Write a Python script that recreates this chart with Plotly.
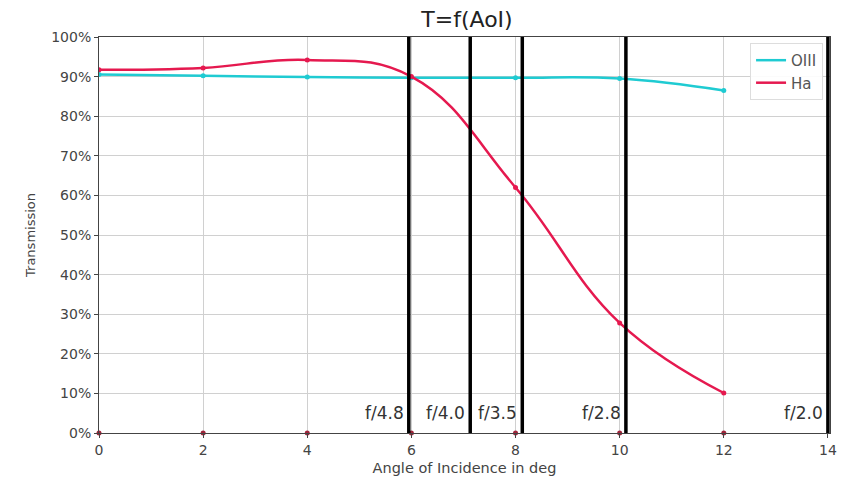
import plotly.graph_objects as go

angles = [0, 2, 4, 6, 8, 10, 12]
oiii = [90.5, 90.2, 89.9, 89.7, 89.7, 89.5, 86.5]
ha = [91.7, 92.2, 94.2, 90.0, 62.0, 27.8, 10.1]
zeros = [0, 0, 0, 0, 0, 0, 0]

f_labels = ["f/4.8", "f/4.0", "f/3.5", "f/2.8", "f/2.0"]
f_angles = [5.95, 7.13, 8.13, 10.12, 14.0]

y_ticks = [0, 10, 20, 30, 40, 50, 60, 70, 80, 90, 100]
y_ticktext = ["0%", "10%", "20%", "30%", "40%", "50%", "60%", "70%", "80%", "90%", "100%"]
x_ticks = [0, 2, 4, 6, 8, 10, 12, 14]

FONT = "DejaVu Sans, sans-serif"
C_O = "#1fcbd2"
C_H = "#e5194f"

fig = go.Figure()
for name, vals, col in [("OIII", oiii, C_O), ("Ha", ha, C_H)]:
    fig.add_trace(go.Scatter(x=angles, y=vals, name=name, mode="lines",
                             line=dict(color=col, width=2.5, shape="spline", smoothing=1.2)))
    fig.add_trace(go.Scatter(x=angles, y=vals, mode="markers", showlegend=False,
                             marker=dict(size=5, color=col)))
fig.add_trace(go.Scatter(x=angles, y=zeros, mode="markers", showlegend=False,
                         marker=dict(size=5, color="#a0243a"), cliponaxis=False))

for lab, a in zip(f_labels, f_angles):
    fig.add_shape(type="line", x0=a, x1=a, y0=0, y1=100, xref="x", yref="y",
                  line=dict(color="black", width=3.5), layer="above")
    fig.add_annotation(x=a, y=2.0, text=lab, xref="x", yref="y", showarrow=False,
                       xanchor="right", yanchor="bottom", xshift=-3,
                       font=dict(family=FONT, size=17, color="#333"))

fig.update_layout(
    width=846, height=482,
    margin=dict(l=99, r=16, t=37, b=49),
    paper_bgcolor="white", plot_bgcolor="white",
    font=dict(family=FONT, size=14, color="#444"),
    title=dict(text="T=f(AoI)", x=0.552, xanchor="center", y=0.96, yanchor="middle",
               font=dict(family=FONT, size=22, color="#222")),
    legend=dict(x=0.9905, y=0.985, xanchor="right", yanchor="top",
                bgcolor="rgba(255,255,255,0.9)", bordercolor="#ddd", borderwidth=1,
                font=dict(family=FONT, size=15, color="#555")),
    xaxis=dict(range=[0, 14.04], tickvals=x_ticks, showgrid=True, gridcolor="#d0d0d0",
               showline=True, linecolor="#444", linewidth=1, mirror=True,
               ticks="outside", ticklen=4, tickcolor="#444", zeroline=False,
               automargin=False,
               title=dict(text="Angle of Incidence in deg", standoff=6,
                          font=dict(family=FONT, size=14.5, color="#444")),
               tickfont=dict(size=14)),
    yaxis=dict(range=[0, 100], tickvals=y_ticks, ticktext=y_ticktext, tickmode="array",
               showgrid=True, gridcolor="#d0d0d0", showline=True, linecolor="#444",
               linewidth=1, mirror=True, ticks="outside", ticklen=4, tickcolor="#444",
               zeroline=False, automargin=False,
               title=dict(text="Transmission", standoff=12,
                          font=dict(family=FONT, size=13, color="#444")),
               tickfont=dict(size=14)),
)

fig.write_html("out.html", post_script="document.body.style.margin='0';",
               config={"displayModeBar": False})
